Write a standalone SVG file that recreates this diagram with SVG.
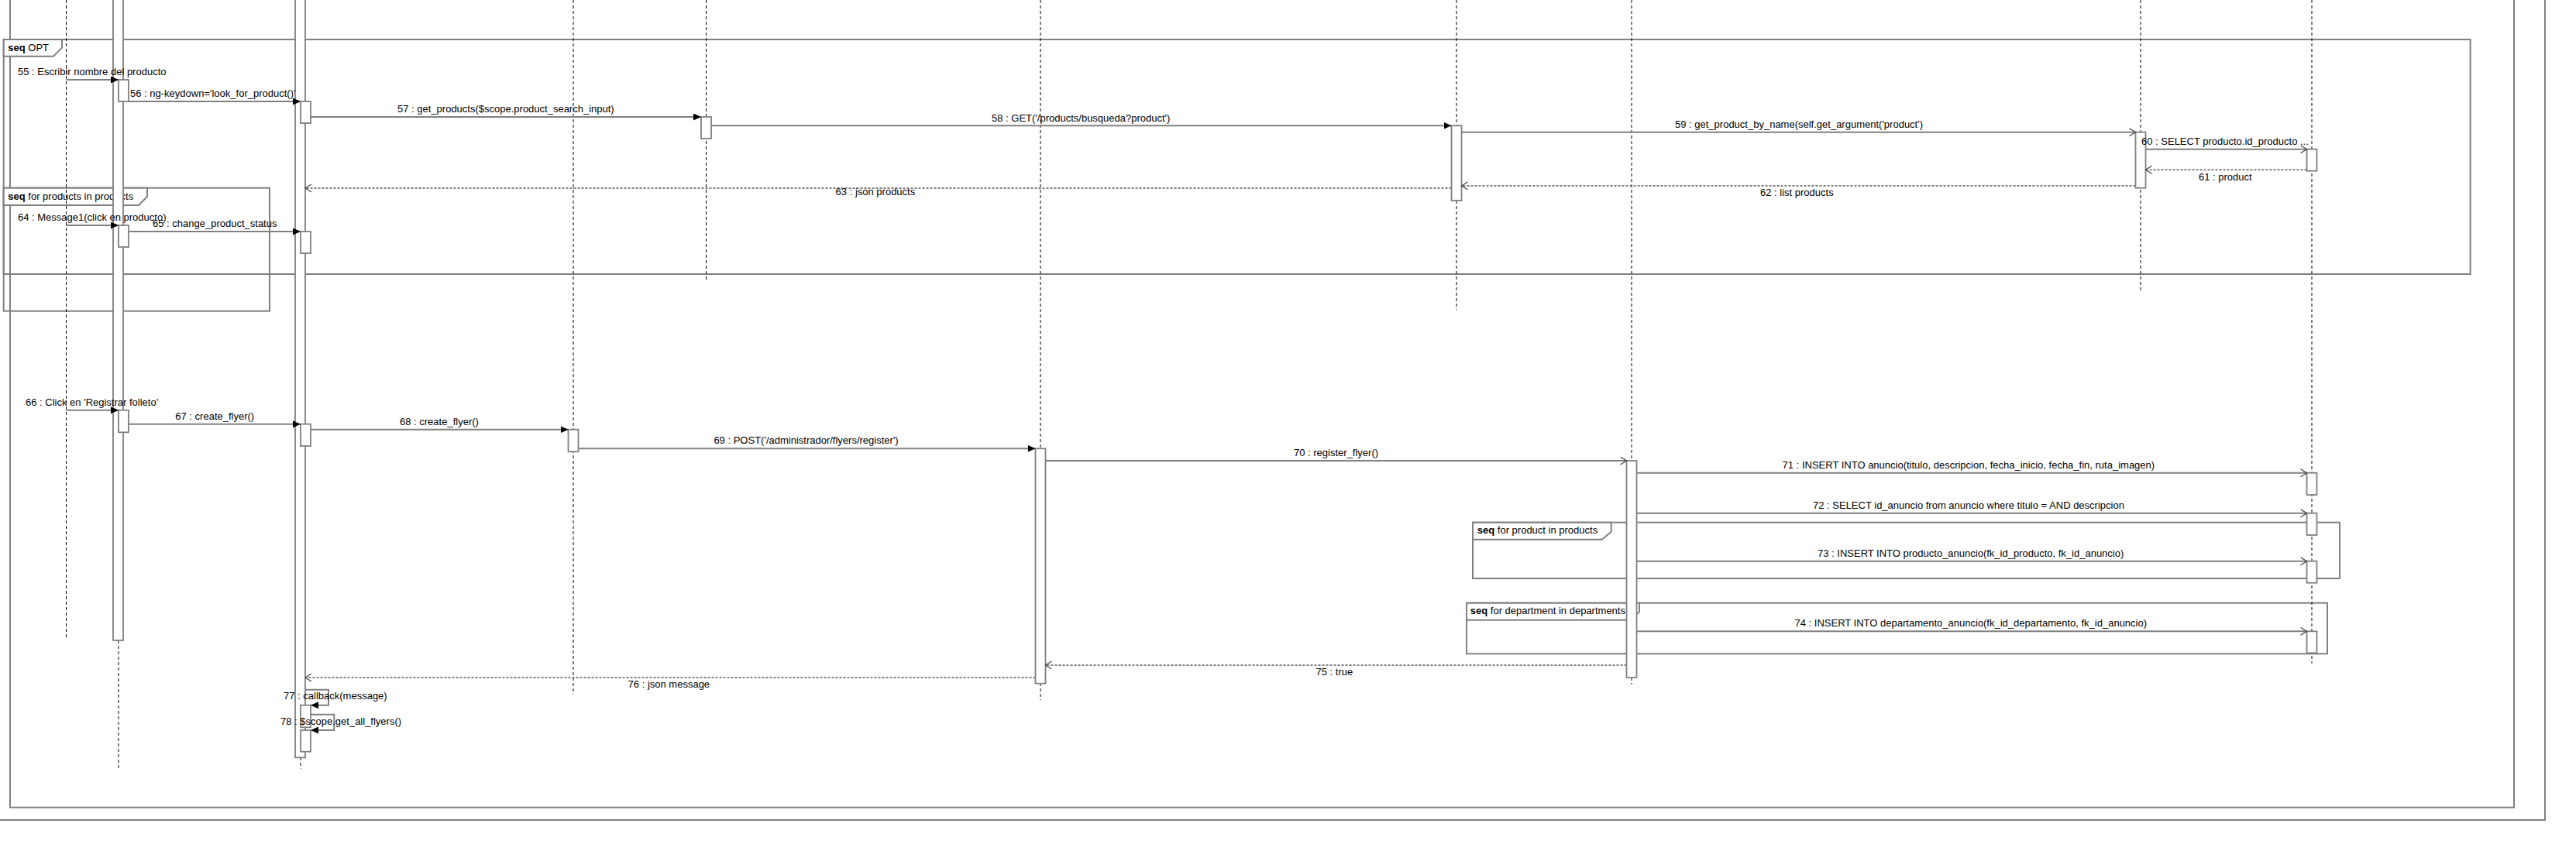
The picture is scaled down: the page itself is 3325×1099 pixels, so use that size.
<svg xmlns="http://www.w3.org/2000/svg" width="3325" height="1099" viewBox="0 0 3325 1099">
<style>
text{font-family:"Liberation Sans",Arial,sans-serif;font-size:13px;fill:#000}
.b{font-weight:bold}
.fr{fill:none;stroke:#808080;stroke-width:2}
.tab{fill:#fff;stroke:#808080;stroke-width:2}
.ll{stroke:#000;stroke-width:1;stroke-dasharray:4 3;fill:none}
.act{fill:#fff;stroke:#808080;stroke-width:1.8}
.m{fill:none;stroke:#808080;stroke-width:2}
.r{fill:none;stroke:#808080;stroke-width:2;stroke-dasharray:3 2}
.sf{marker-end:url(#filled)}
.so{marker-end:url(#open)}
</style>
<defs>
<marker id="filled" markerUnits="userSpaceOnUse" markerWidth="11" markerHeight="10" refX="10" refY="4.5" orient="auto"><path d="M0,0 L10,4.5 L0,9 z" fill="#000"/></marker>
<marker id="open" markerUnits="userSpaceOnUse" markerWidth="10" markerHeight="12" refX="8.5" refY="5.5" orient="auto"><path d="M0.5,0.5 L8.5,5.5 L0.5,10.5" fill="none" stroke="#404040" stroke-width="1.2"/></marker>
</defs>
<rect width="3325" height="1099" fill="#fff"/>
<g id="frames">
<path class="fr" d="M0,1059 H3285 V-5"/>
<path class="fr" d="M13,-5 V1042.7 H3245 V-5"/>
<g id="frame-opt"><rect class="fr" x="4.7" y="51" width="3183.9" height="303"/><path class="tab" d="M4.7,51 V72.7 H69 L80,61.7 V51 Z"/></g>
<g id="frame-products"><rect class="fr" x="4.7" y="242.7" width="343.3" height="159"/><path class="tab" d="M4.7,242.7 V265 H179 L190,254 V242.7 Z"/></g>
<g id="frame-product"><rect class="fr" x="1901" y="674.7" width="1119" height="72.3"/><path class="tab" d="M1901,674.7 V696.7 H2067.7 L2079.7,686.7 V674.7 Z"/></g>
<g id="frame-department"><rect class="fr" x="1893" y="778.7" width="1111" height="65.6"/><path class="tab" d="M1893,778.7 V800.7 H2104 L2116,790 V778.7 Z"/></g>
</g>
<g id="frame-labels">
<text x="10.3" y="65.7"><tspan class="b">seq</tspan> OPT</text>
<text x="10.3" y="258"><tspan class="b">seq</tspan> for products in products</text>
<text x="1906.8" y="689"><tspan class="b">seq</tspan> for product in products</text>
<text x="1897.8" y="793"><tspan class="b">seq</tspan> for department in departments</text>
</g>
<g id="p0"><line class="ll" x1="85.5" y1="0" x2="85.5" y2="824"/></g>
<g id="p1"><line class="ll" x1="153" y1="827" x2="153" y2="992.7"/>
<rect class="act" x="146" y="-10" width="13" height="837"/>
<rect class="act" x="153" y="103" width="13" height="28"/>
<rect class="act" x="153" y="291" width="13" height="28"/>
<rect class="act" x="153" y="529.7" width="13" height="28.6"/></g>
<g id="p2"><line class="ll" x1="388" y1="978" x2="388" y2="992.7"/>
<rect class="act" x="381" y="-10" width="13" height="988.3"/>
<rect class="act" x="388" y="131" width="13" height="28"/>
<rect class="act" x="388" y="299" width="13" height="28"/>
<rect class="act" x="388" y="547.7" width="13" height="28.3"/>
<rect class="act" x="388" y="910.7" width="13" height="28.6"/>
<rect class="act" x="388" y="943" width="13" height="27.7"/></g>
<g id="p3"><line class="ll" x1="740" y1="0" x2="740" y2="896.7"/><rect class="act" x="733.5" y="554.7" width="13" height="28.6"/></g>
<g id="p4"><line class="ll" x1="911.5" y1="0" x2="911.5" y2="363"/><rect class="act" x="905" y="151" width="13" height="28"/></g>
<g id="p5"><line class="ll" x1="1343" y1="0" x2="1343" y2="904"/><rect class="act" x="1336.5" y="579.3" width="13" height="303.4"/></g>
<g id="p6"><line class="ll" x1="1880" y1="0" x2="1880" y2="400"/><rect class="act" x="1873.5" y="162.3" width="13" height="96.7"/></g>
<g id="p7"><line class="ll" x1="2106" y1="0" x2="2106" y2="884"/><rect class="act" x="2099.5" y="595" width="13" height="280"/></g>
<g id="p8"><line class="ll" x1="2763" y1="0" x2="2763" y2="376"/><rect class="act" x="2756.5" y="170.7" width="13" height="72"/></g>
<g id="p9"><line class="ll" x1="2984" y1="0" x2="2984" y2="856.7"/>
<rect class="act" x="2977.5" y="192.7" width="13" height="28"/>
<rect class="act" x="2977.5" y="610.7" width="13" height="28.3"/>
<rect class="act" x="2977.5" y="662.7" width="13" height="28.3"/>
<rect class="act" x="2977.5" y="724.7" width="13" height="28"/>
<rect class="act" x="2977.5" y="815.3" width="13" height="28"/></g>
<g id="connectors">
<path class="m sf" d="M85.5,103 H153"/>
<path class="m sf" d="M166,131 H388"/>
<path class="m sf" d="M401,151 H905"/>
<path class="m sf" d="M918,162.3 H1873.5"/>
<path class="m so" d="M1886.5,170.7 H2756.5"/>
<path class="m so" d="M2769.5,192.7 H2977.5"/>
<path class="r so" d="M2977.5,219.3 H2769.5"/>
<path class="r so" d="M2756.5,240 H1886.5"/>
<path class="r so" d="M1873.5,243 H394"/>
<path class="m sf" d="M85.5,291 H153"/>
<path class="m sf" d="M166,299 H388"/>
<path class="m sf" d="M85.5,529.7 H153"/>
<path class="m sf" d="M166,547.7 H388"/>
<path class="m sf" d="M401,554.7 H733.5"/>
<path class="m sf" d="M746.5,579.3 H1336.5"/>
<path class="m so" d="M1349.5,595 H2099.5"/>
<path class="m so" d="M2112.5,610.7 H2977.5"/>
<path class="m so" d="M2112.5,662.7 H2977.5"/>
<path class="m so" d="M2112.5,724.7 H2977.5"/>
<path class="m so" d="M2112.5,815.3 H2977.5"/>
<path class="r so" d="M2099.5,859 H1349.5"/>
<path class="r so" d="M1336.5,875 H394"/>
<path class="m sf" d="M394,890.7 H424 V910.7 H401"/>
<path class="m sf" d="M401,922.7 H431.3 V943 H401"/>
</g>
<g id="labels">
<text x="23" y="97">55 : Escribir nombre del producto</text>
<text x="168" y="125">56 : ng-keydown='look_for_product()'</text>
<text x="513" y="145">57 : get_products($scope.product_search_input)</text>
<text x="1280" y="156.5">58 : GET('/products/busqueda?product')</text>
<text x="2162" y="165">59 : get_product_by_name(self.get_argument('product')</text>
<text x="2764" y="186.5">60 : SELECT producto.id_producto ...</text>
<text x="2838" y="232.7">61 : product</text>
<text x="2272" y="253">62 : list products</text>
<text x="1078.6" y="251.7">63 : json products</text>
<text x="23" y="285">64 : Message1(click en producto)</text>
<text x="197" y="293">65 : change_product_status</text>
<text x="33" y="523.7">66 : Click en 'Registrar folleto'</text>
<text x="226.3" y="541.7">67 : create_flyer()</text>
<text x="516" y="548.7">68 : create_flyer()</text>
<text x="921.4" y="573.3">69 : POST('/administrador/flyers/register')</text>
<text x="1670" y="589">70 : register_flyer()</text>
<text x="2300.6" y="604.7">71 : INSERT INTO anuncio(titulo, descripcion, fecha_inicio, fecha_fin, ruta_imagen)</text>
<text x="2340" y="656.7">72 : SELECT id_anuncio from anuncio where titulo = AND descripcion</text>
<text x="2346" y="718.7">73 : INSERT INTO producto_anuncio(fk_id_producto, fk_id_anuncio)</text>
<text x="2316.5" y="809.3">74 : INSERT INTO departamento_anuncio(fk_id_departamento, fk_id_anuncio)</text>
<text x="1698.5" y="871.7">75 : true</text>
<text x="810.6" y="887.7">76 : json message</text>
<text x="366" y="903.3">77 : callback(message)</text>
<text x="362" y="936">78 : $scope.get_all_flyers()</text>
</g>
</svg>
